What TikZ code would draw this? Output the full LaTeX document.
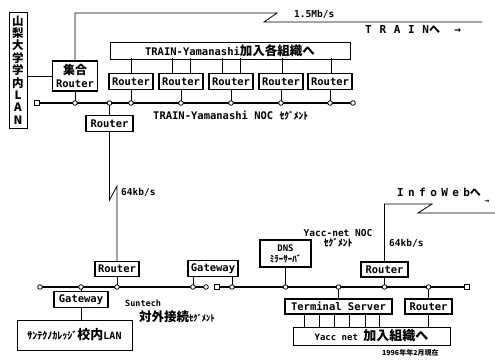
\documentclass[tikz,border=0pt]{standalone}
\usepackage{fontspec}
\setmainfont{DejaVu Sans Mono}
\newfontfamily\jp{Noto Sans CJK JP}
\newfontfamily\wide{DejaVu Sans Mono}[LetterSpace=40]
\newfontfamily\wider{DejaVu Sans Mono}[LetterSpace=70]
\usetikzlibrary{calc}

\begin{document}
\begin{tikzpicture}[x=1pt, y=-1pt,
    box/.style={draw, line width=1.3pt, inner sep=0pt, minimum height=16, font=\bfseries\fontsize{10.5}{11}\selectfont},
    frame/.style={draw, line width=0.7pt, inner sep=0pt},
    seg/.style={line width=1.9pt},
    lnk/.style={line width=0.8pt},
    lbl/.style={inner sep=0pt, font=\bfseries\fontsize{9.5}{10}\selectfont}]
  \useasboundingbox (0,0) rectangle (495,360);

  % Yamanashi University LAN
  \node[frame, minimum width=18, minimum height=116, align=center, font=\jp\bfseries\fontsize{11.5}{12.4}\selectfont] (ylan) at (18,70) {山\\梨\\大\\学\\学\\内\\L\\A\\N};
  \node[box, minimum width=45, minimum height=30, align=center, font=\bfseries\fontsize{10.5}{12.5}\selectfont] (gr) at (75,76) {{\jp\fontsize{12}{12}\selectfont 集合}\\Router};
  \draw[lnk] (ylan.east |- gr.west) -- (gr.west);

  % TRAIN-Yamanashi NOC segment
  \foreach \i/\x in {1/131,2/181,3/231,4/281,5/330}
    \node[box, minimum width=44] (r\i) at (\x,81.5) {Router};
  \node[frame, minimum width=240, minimum height=17, font=\bfseries\fontsize{10.5}{11}\selectfont] (tybox) at (230,50.5) {TRAIN-Yamanashi{\jp\fontsize{12.5}{12}\selectfont 加入各組織へ}};
  \foreach \r/\d in {r1/0,r2/-9,r2/9,r3/-9,r3/9,r4/1,r5/1}
    \draw[lnk] ($(\r.north)+(\d,0)$) -- ++(0,-14.5);

  \coordinate (s1w) at (37,103);
  \coordinate (s1e) at (353,103);
  \draw[seg] (s1w) -- (s1e);
  \node[box, minimum width=47] (rt) at (109.5,123.5) {Router};
  \draw[lnk] (gr.south) -- (gr.south |- s1w);
  \draw[lnk] (rt.north) -- (rt.north |- s1w);
  \foreach \i in {1,...,5}
    \draw[lnk] (r\i.south) -- (r\i.south |- s1w);
  \foreach \x in {75,109.5,131,181,231,281,330}
    \draw[lnk, fill=white] (\x,103) circle (2.3);
  \draw[lnk, fill=white] ($(s1w)+(-2.3,-2.3)$) rectangle ++(4.6,4.6);
  \draw[lnk, fill=white] (s1e) circle (2.3);
  \node[lbl, anchor=west, font=\bfseries\fontsize{10.5}{11}\selectfont] (noc1) at (153,116) {TRAIN-Yamanashi~NOC~{\jp\fontsize{9.5}{10}\selectfont ｾｸﾞﾒﾝﾄ}};

  % line to TRAIN
  \draw[lnk] (gr.north) -- (75,13) -- (277,13) -- (264,22) -- (482,22) coordinate (trainend);
  \node[lbl, anchor=south west] (bw1) at (294,19) {1.5Mb/s};
  \node[inner sep=0pt, anchor=west, font=\wider\bfseries\fontsize{11}{11}\selectfont] (trn) at (365,29) {TRAIN{\jp へ}~→};

  % Suntech segment
  \node[box, minimum width=44, minimum height=15] (rs) at (117,269) {Router};
  \draw[lnk] (rt.south) -- (109.5,200) -- (117,186) -- (rs.north);
  \node[lbl, anchor=west] (bw2) at (121,192) {64kb/s};

  \coordinate (s2w) at (40,287);
  \coordinate (s2e) at (206,287);
  \node[box, minimum width=54] (gw1) at (81,299.5) {Gateway};
  \node[box, minimum width=50] (gw2) at (213,268.5) {Gateway};
  \draw[seg] (s2w) -- (s2e);
  \draw[lnk] (gw1.north) -- (gw1.north |- s2w);
  \draw[lnk] (rs.south) -- (rs.south |- s2w);
  \draw[lnk] ($(gw2.south)+(-20,0)$) -- ++(0,10);
  \foreach \x in {81,117,193}
    \draw[lnk, fill=white] (\x,287) circle (2.3);
  \draw[lnk, fill=white] (s2w) circle (2.3);
  \draw[lnk, fill=white] (s2e) circle (2.3);

  \node[frame, minimum width=115, minimum height=30, font=\bfseries\fontsize{10}{10}\selectfont] (slan) at (74.5,335) {{\jp ｻﾝﾃｸﾉｶﾚｯｼﾞ\fontsize{13}{13}\selectfont 校内}LAN};
  \draw[lnk] (gw1.south) -- (gw1.south |- slan.north);
  \node[lbl, anchor=west, font=\bfseries\fontsize{8.5}{9}\selectfont] (sun) at (125,303) {Suntech};
  \node[inner sep=0pt, anchor=west, font=\jp\bfseries\fontsize{12.5}{13}\selectfont] (sunseg) at (139,317) {対外接続{\fontsize{8.5}{9}\selectfont ｾｸﾞﾒﾝﾄ}};

  % Yacc-net NOC segment
  \coordinate (s3w) at (217,287);
  \coordinate (s3e) at (467,287);
  \draw[seg] (s3w) -- (s3e);
  \node[box, minimum width=51, minimum height=27, align=center, font=\bfseries\fontsize{9}{11}\selectfont] (dns) at (285.5,253.5) {DNS\\{\jp ﾐﾗｰｻｰﾊﾞ}};
  \node[lbl, align=center] (ynoc) at (338,238) {Yacc-net NOC\\{\jp ｾｸﾞﾒﾝﾄ}};
  \node[box, minimum width=47, minimum height=15] (ry) at (384.5,269.5) {Router};
  \node[box, minimum width=107, minimum height=15] (ts) at (338.5,306.5) {Terminal Server};
  \node[box, minimum width=47, minimum height=15] (rz) at (428.5,306.5) {Router};
  \node[frame, minimum width=157, minimum height=18, font=\bfseries\fontsize{9}{10}\selectfont] (ybox) at (371.5,336) {Yacc net {\jp\fontsize{13}{13}\selectfont 加入組織へ}};
  \draw[lnk] (gw2.south -| s3w) ++(15,0) -- ++(0,10);
  \draw[lnk] (dns.south) -- (dns.south |- s3w);
  \draw[lnk] (ry.south) -- (ry.south |- s3w);
  \draw[lnk] (ts.north) -- (ts.north |- s3w);
  \draw[lnk] (rz.north) -- (rz.north |- s3w);
  \foreach \d in {20,35,50,65,81,95}
    \draw[lnk] ($(ts.south west)+(\d,0)$) -- ++(0,13);
  \draw[lnk] (rz.south) -- (rz.south |- ybox.north);
  \foreach \x in {232,285.5,338.5,384.5,428.5}
    \draw[lnk, fill=white] (\x,287) circle (2.3);
  \draw[lnk, fill=white] ($(s3w)+(-2.3,-2.3)$) rectangle ++(4.6,4.6);
  \draw[lnk, fill=white] ($(s3e)+(-2.3,-2.3)$) rectangle ++(4.6,4.6);

  % line to InfoWeb
  \draw[lnk] (ry.north) -- (384.5,204) -- (432,204) -- (418,213) -- (495,213) coordinate (iwend);
  \node[lbl, anchor=west] (bw3) at (389,243) {64kb/s};
  \node[inner sep=0pt, anchor=west, font=\wide\bfseries\fontsize{11}{11}\selectfont] (iw) at (397,192) {InfoWeb{\jp へ}};
  \node[inner sep=0pt, font=\bfseries\fontsize{8}{8}\selectfont] (iwarr) at (487,202) {→};

  \node[inner sep=0pt, anchor=west, font=\jp\bfseries\fontsize{7}{7}\selectfont] (date) at (382,353) {1996年年2月現在};
\end{tikzpicture}
\end{document}
